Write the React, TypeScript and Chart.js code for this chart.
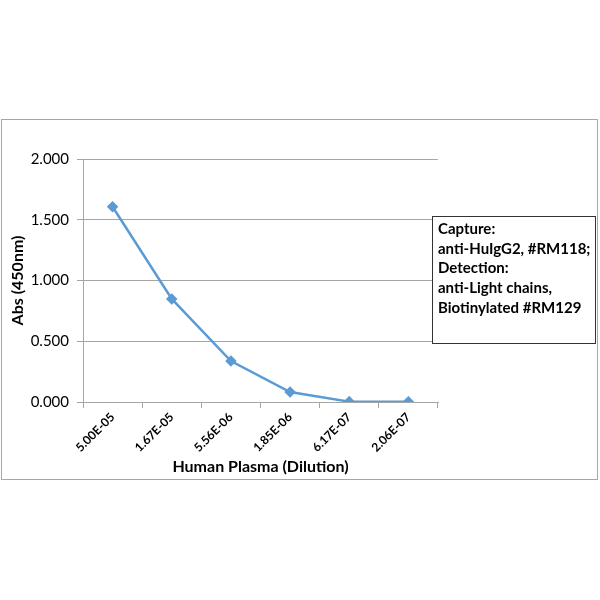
import React, { useEffect, useRef } from "react";
import { Chart, registerables } from "chart.js";

Chart.register(...registerables);

const dilutions = ["5.00E-05", "1.67E-05", "5.56E-06", "1.85E-06", "6.17E-07", "2.06E-07"];
const absValues = [1.607, 0.848, 0.337, 0.082, 0.003, 0.002];
const noteLines = [
  "Capture:",
  "anti-HuIgG2, #RM118;",
  "Detection:",
  "anti-Light chains,",
  "Biotinylated #RM129",
];

const FONT = "Lato, 'Open Sans', sans-serif";

// outer frame + text box on the right
const boxPlugin = {
  id: "boxes",
  beforeDraw(chart: Chart) {
    const ctx = chart.ctx;
    ctx.save();
    ctx.strokeStyle = "#a6a6a6";
    ctx.lineWidth = 1;
    ctx.strokeRect(1.5, 119.5, 596, 360);
    ctx.restore();
  },
  afterDraw(chart: Chart) {
    const ctx = chart.ctx;
    ctx.save();
    ctx.fillStyle = "#ffffff";
    ctx.fillRect(432, 216, 163, 127);
    ctx.strokeStyle = "#333333";
    ctx.lineWidth = 1;
    ctx.strokeRect(432.5, 216.5, 163, 127);
    ctx.fillStyle = "#000000";
    ctx.font = "bold 15px " + FONT;
    ctx.textBaseline = "middle";
    noteLines.forEach((t, i) => ctx.fillText(t, 438, 229 + i * 19.8));
    ctx.restore();
  },
};

export default function App() {
  const ref = useRef<HTMLCanvasElement | null>(null);

  useEffect(() => {
    if (!ref.current) return;
    const chart = new Chart(ref.current, {
      type: "line",
      data: {
        labels: dilutions,
        datasets: [
          {
            data: absValues,
            borderColor: "#5b9bd5",
            backgroundColor: "#5b9bd5",
            borderWidth: 2.5,
            pointStyle: "rectRot",
            pointRadius: 4,
            tension: 0,
          },
        ],
      },
      options: {
        responsive: false,
        animation: false,
        layout: { padding: { top: 159, right: 162, left: 0, bottom: 120 } },
        plugins: { legend: { display: false }, tooltip: { enabled: false } },
        scales: {
          x: {
            offset: true,
            afterFit: (s: any) => {
              s.height = 78;
            },
            grid: {
              offset: true,
              drawOnChartArea: false,
              drawTicks: true,
              tickLength: 6,
              color: "#a6a6a6",
            },
            border: { color: "#a6a6a6" },
            ticks: {
              minRotation: 45,
              maxRotation: 45,
              color: "#000",
              padding: 2,
              font: { family: FONT, size: 12, weight: "bold" },
            },
            title: {
              display: true,
              text: "Human Plasma (Dilution)",
              color: "#000",
              padding: { top: 2, bottom: 4 },
              font: { family: FONT, size: 16, weight: "bold" },
            },
          },
          y: {
            min: 0,
            max: 2,
            afterFit: (s: any) => {
              s.width = 83;
            },
            grid: { color: "#a6a6a6", tickLength: 6 },
            border: { color: "#a6a6a6" },
            ticks: {
              stepSize: 0.5,
              color: "#000",
              padding: 8,
              font: { family: FONT, size: 15 },
              callback: (v: any) => Number(v).toFixed(3),
            },
            title: {
              display: true,
              text: "Abs (450nm)",
              color: "#000",
              padding: { top: 8, bottom: 0 },
              font: { family: FONT, size: 16, weight: "bold" },
            },
          },
        },
      },
      plugins: [boxPlugin],
    });
    return () => chart.destroy();
  }, []);

  return (
    <canvas
      ref={ref}
      width={600}
      height={600}
      style={{ position: "fixed", left: 0, top: 0, background: "#fff" }}
    />
  );
}
